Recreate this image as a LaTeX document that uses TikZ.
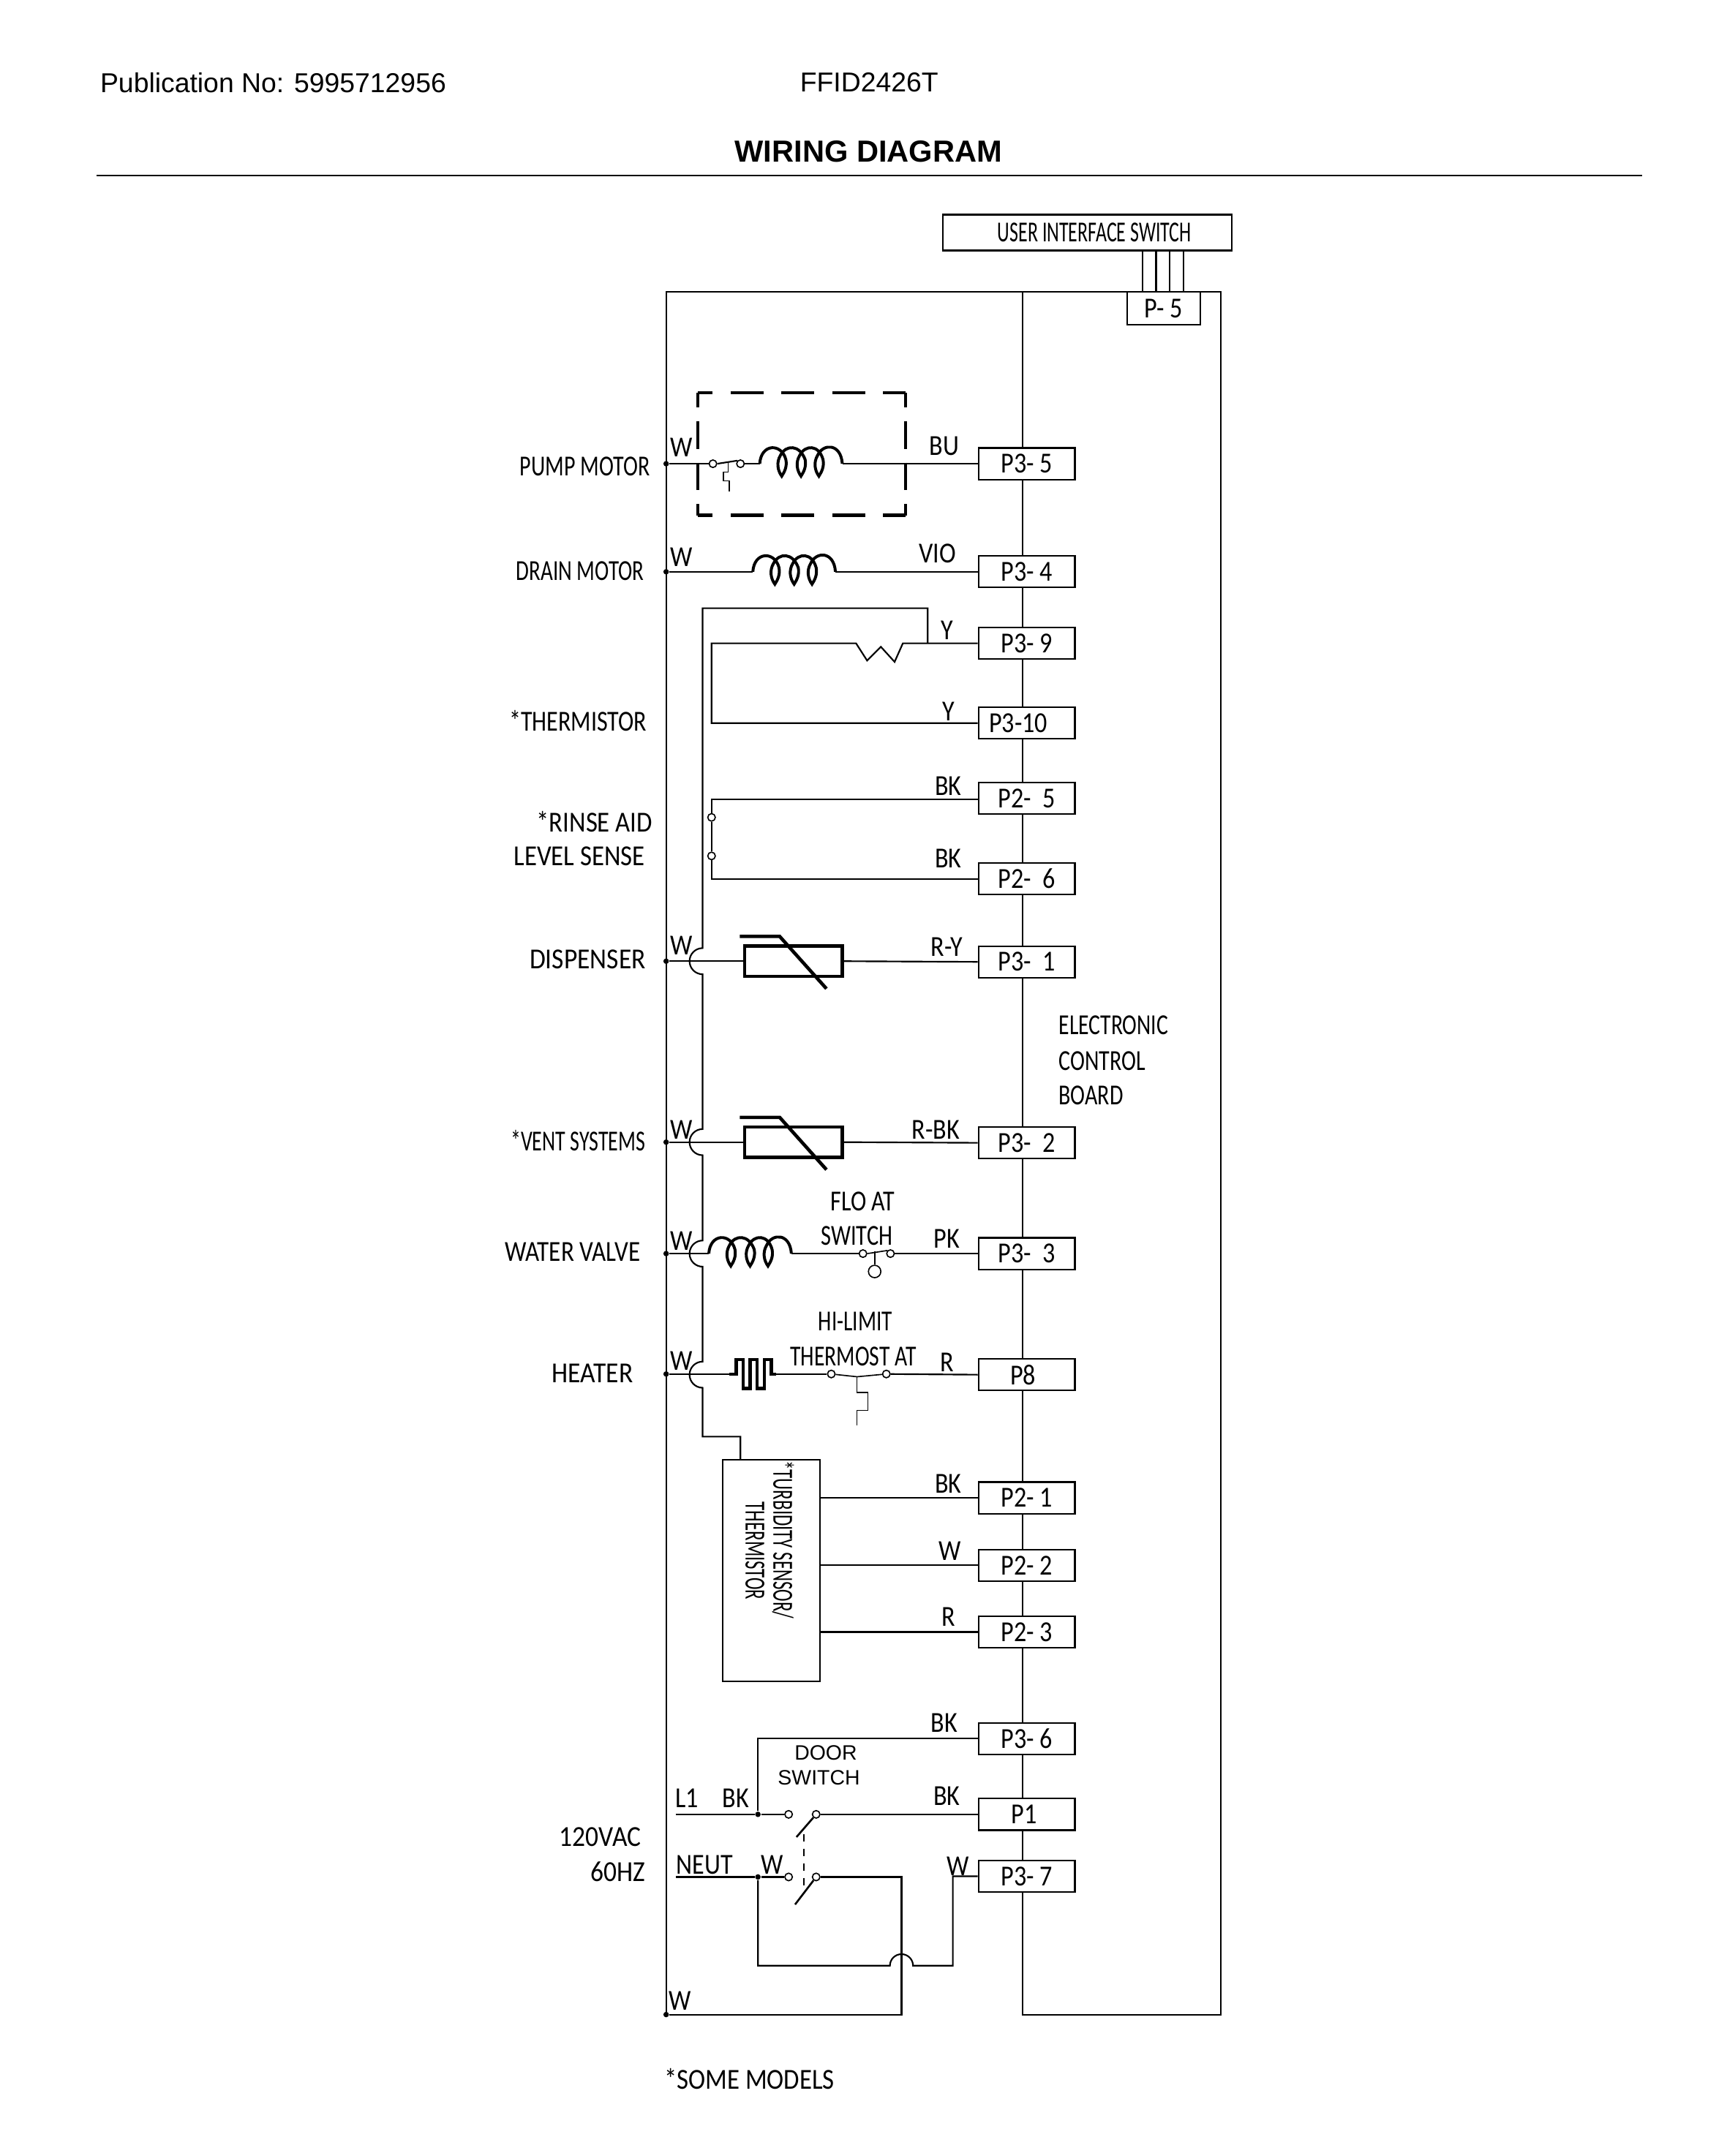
\documentclass[tikz,border=0pt]{standalone}
\usepackage{fontspec}
\usepackage{graphicx}
\setmainfont{Liberation Sans}
\newfontfamily\cond[FakeStretch=0.86]{Carlito}
\newcommand\sx[2]{\scalebox{#1}[1]{#2}}
\usepackage{tikz}
\usetikzlibrary{positioning}
\tikzset{
  wire/.style={line width=0.65pt},
  lbl/.style={font=\cond\fontsize{12}{14}\selectfont,inner sep=0pt},
  conn/.style={lbl,draw,line width=0.65pt,fill=white,minimum width=1.4cm,minimum height=0.46cm},
  term/.style={circle,draw,line width=0.5pt,fill=white,minimum size=0.11cm,inner sep=0pt},
  dot/.style={circle,fill=black,minimum size=0.08cm,inner sep=0pt},
  pics/coil/.style={code={
    \coordinate (-in) at (0,0);
    \coordinate (-out) at (60,0);
    \draw[line width=1.2pt] (-in) .. controls (1,-15) and (16,-15) .. (19,-3)
      .. controls (20,2) and (18,6) .. (16,9) .. controls (13,5) and (12,-1) .. (15,-6)
      .. controls (19,-14) and (29,-14) .. (33,-3)
      .. controls (34,2) and (32,6) .. (30,9) .. controls (27,5) and (26,-1) .. (29,-6)
      .. controls (33,-14) and (43,-14) .. (46,-3)
      .. controls (47,2) and (45,6) .. (43,9) .. controls (40,5) and (39,-1) .. (42,-6)
      .. controls (46,-15) and (59,-15) .. (-out);
  }},
  pics/ptc/.style={code={
    \node (-body) [draw,line width=1.4pt,minimum width=1.42cm,minimum height=0.44cm,inner sep=0pt] at (0,0) {};
    \draw[line width=1.4pt] (-39,-18) -- (-10,-18) -- (24,20);
  }},
}
\begin{document}
\begin{tikzpicture}[x=0.02cm,y=-0.02cm]
\useasboundingbox (0,0) rectangle (1254.3,1566.8);
% header
\node (pub) [font=\fontsize{11.3}{13}\selectfont,inner sep=0pt] at (198.5,60) {Publication No: 5995712956};
\node (model) [font=\fontsize{11.3}{13}\selectfont,inner sep=0pt] at (631.5,60) {FFID2426T};
\node (title) [font=\bfseries\fontsize{12.6}{14}\selectfont,inner sep=0pt] at (631,110) {WIRING DIAGRAM};
\draw[wire] (70,127.5) -- (1193,127.5);

% rail and control board
\coordinate (railTop) at (484,212);
\coordinate (railBot) at (484,1464);
\draw[wire] (railBot) -- (railTop) -- (743,212);
\draw[wire] (743,212) rectangle (887,1464);
\node (ui) [lbl,draw,line width=0.7pt,minimum width=4.2cm,minimum height=0.52cm] at (790,169) {\kern 6pt\sx{0.76}{USER INTERFACE SWITCH}};
\node (p5) [lbl,draw,line width=0.65pt,fill=white,minimum width=1.06cm,minimum height=0.48cm] at (845.5,224) {P- 5};
\draw[wire] (830,182) -- (830,212);
\draw[wire] (840,182) -- (840,212);
\draw[wire] (850,182) -- (850,212);
\draw[wire] (860,182) -- (860,212);
\node (board1) [lbl,anchor=west] at (769,745) {\sx{0.87}{ELECTRONIC}};
\node (board2) [lbl,anchor=west] at (769,771) {\sx{0.88}{CONTROL}};
\node (board3) [lbl,anchor=west] at (769,796) {\sx{0.88}{BOARD}};

% connectors
\node (p35) [conn] at (746,337) {P3- 5};
\node (p34) [conn] at (746,415.5) {P3- 4};
\node (p39) [conn] at (746,467.5) {P3- 9};
\node (p310) [conn] at (746,525.5) {P3-10\kern 7pt};
\node (p25) [conn] at (746,580) {P2- \ 5};
\node (p26) [conn] at (746,638.5) {P2- \ 6};
\node (p31) [conn] at (746,699) {P3- \ 1};
\node (p32) [conn] at (746,830.5) {P3- \ 2};
\node (p33) [conn] at (746,911) {P3- \ 3};
\node (p8) [conn] at (746,999) {P8\kern 3pt};
\node (p21) [conn] at (746,1088.5) {P2- 1};
\node (p22) [conn] at (746,1137.5) {P2- 2};
\node (p23) [conn] at (746,1186) {P2- 3};
\node (p36) [conn] at (746,1263.5) {P3- 6};
\node (p1) [conn] at (746,1318.5) {P1\kern 2pt};
\node (p37) [conn] at (746,1363.5) {P3- 7};

% pump motor
\node (pumpL) [lbl] at (425,339) {\sx{0.88}{PUMP MOTOR}};
\node (pumpDot) [dot] at (484,337) {};
\node (pumpA) [term] at (518,337) {};
\node (pumpB) [term] at (538,337) {};
\pic (pumpC) at (552,337) {coil};
\draw[wire] (pumpDot) -- (pumpA);
\draw[wire] (pumpB) -- (pumpC-in);
\draw[wire] (pumpC-out) -- (p35.west);
\draw[wire] (pumpA.east) -- (pumpB.north west);
\draw[line width=0.5pt] (529,335.5) -- (529,343) -- (525.5,343) -- (525.5,349.5) -- (530,349.5) -- (530,357);
\draw[line width=1.3pt,dash pattern=on 13.6pt off 7.4pt,dash phase=7.4pt] (507,285.5) -- (658,285.5);
\draw[line width=1.3pt,dash pattern=on 13.6pt off 7.4pt,dash phase=7.4pt] (507,374.5) -- (658,374.5);
\draw[line width=1.3pt,dash pattern=on 11.4pt off 5.7pt,dash phase=5.3pt] (507,285.5) -- (507,374.5);
\draw[line width=1.3pt,dash pattern=on 11.4pt off 5.7pt,dash phase=5.3pt] (658,285.5) -- (658,374.5);
\node (pumpW) [lbl] at (495,325) {W};
\node (pumpBU) [lbl] at (686,324) {BU};

% drain motor
\node (drainL) [lbl] at (421.5,415) {\sx{0.85}{DRAIN MOTOR}};
\node (drainDot) [dot] at (484,415.5) {};
\pic (drainC) at (547,415.5) {coil};
\draw[wire] (drainDot) -- (drainC-in);
\draw[wire] (drainC-out) -- (p34.west);
\node (drainW) [lbl] at (495,405) {W};
\node (drainV) [lbl] at (681,402) {VIO};

% thermistor
\node (thermL) [lbl] at (420,524) {\sx{0.94}{*THERMISTOR}};
\coordinate (thermA) at (622,467.5);
\coordinate (thermB) at (656,467.5);
\coordinate (thermT) at (674,467.5);
\draw[wire] (p39.west) -- (thermB) -- (650,481) -- (640,470) -- (630,480) -- (thermA) -- (517,467.5) -- (517,525.5) -- (p310.west);
\node (thermY1) [lbl] at (688,458) {Y};
\node (thermY2) [lbl] at (689,517) {Y};

% long wire with jumps
\draw[wire] (thermT) -- (674,442) -- (510.5,442) -- (510.5,689)
  arc[start angle=-90,end angle=-270,radius=9.5] -- (510.5,820.5)
  arc[start angle=-90,end angle=-270,radius=9.5] -- (510.5,901.5)
  arc[start angle=-90,end angle=-270,radius=9.5] -- (510.5,989.5)
  arc[start angle=-90,end angle=-270,radius=9.5] -- (510.5,1044) -- (538,1044) -- (538,1061);

% rinse aid
\node (rinseL1) [lbl] at (432,597) {\sx{1.02}{*RINSE AID}};
\node (rinseL2) [lbl] at (421,622) {\sx{1.02}{LEVEL SENSE}};
\node (rinseA) [term] at (517,594) {};
\node (rinseB) [term] at (517,622) {};
\draw[wire] (p25.west |- 0,581) -- (517,581) -- (rinseA);
\draw[line width=0.5pt] (rinseA) -- (rinseB);
\draw[wire] (rinseB) -- (517,639) -- (p26.west |- 0,639);
\node (rinseK1) [lbl] at (689,571) {BK};
\node (rinseK2) [lbl] at (689,624) {BK};

% dispenser
\node (dispL) [lbl] at (427,697) {\sx{1.04}{DISPENSER}};
\node (dispDot) [dot] at (484,698.5) {};
\pic (dispP) at (576.5,698.5) {ptc};
\draw[wire] (dispDot) -- (dispP-body.west);
\draw[wire] (dispP-body.east) -- (p31.west);
\node (dispW) [lbl] at (495,687) {W};
\node (dispR) [lbl] at (688,688) {R-Y};

% vent
\node (ventL) [lbl] at (420,829) {\sx{0.82}{*VENT SYSTEMS}};
\node (ventDot) [dot] at (484,830) {};
\pic (ventP) at (576.5,830) {ptc};
\draw[wire] (ventDot) -- (ventP-body.west);
\draw[wire] (ventP-body.east) -- (p32.west);
\node (ventW) [lbl] at (495,821) {W};
\node (ventR) [lbl] at (680,821) {R-BK};

% water valve
\node (waterL) [lbl] at (416,910) {\sx{0.97}{WATER VALVE}};
\node (waterDot) [dot] at (484,911) {};
\pic (waterC) at (515,911) {coil};
\node (floatA) [term] at (627,911) {};
\node (floatB) [term] at (647,911) {};
\node (floatC) [circle,draw,line width=0.5pt,minimum size=0.18cm,inner sep=0pt] at (635.5,924) {};
\draw[wire] (waterDot) -- (waterC-in);
\draw[wire] (waterC-out) -- (floatA);
\draw[wire] (floatB) -- (p33.west);
\draw[line width=0.5pt] (floatA.east) -- (floatB.north west);
\draw[line width=0.5pt] (635.5,909.5) -- (floatC);
\node (waterW) [lbl] at (495,902) {W};
\node (float1) [lbl] at (627,873) {\sx{0.94}{FLO AT}};
\node (float2) [lbl] at (622.5,898) {\sx{0.89}{SWITCH}};
\node (waterK) [lbl] at (688,900) {PK};

% heater
\node (heatL) [lbl] at (430.5,998) {\sx{1.04}{HEATER}};
\node (heatDot) [dot] at (484,998.5) {};
\coordinate (heatA) at (530,998.5);
\coordinate (heatB) at (564,998.5);
\node (limitA) [term] at (604,998.5) {};
\node (limitB) [term] at (644,998.5) {};
\draw[wire] (heatDot) -- (heatA);
\draw[line width=1.3pt] (heatA) -- (535,998.5) -- (535,988) -- (540,988) -- (540,1009) -- (545,1009) -- (545,988) -- (550,988) -- (550,1009) -- (555.5,1009) -- (555.5,988) -- (560.5,988) -- (560.5,998.5) -- (heatB);
\draw[wire] (heatB) -- (limitA);
\draw[line width=0.5pt] (limitA) -- (622.7,1000.5) -- (limitB);
\draw[wire] (limitB) -- (p8.west);
\draw[line width=0.5pt] (622.7,1000.5) -- (622.7,1012) -- (630.5,1012) -- (630.5,1025) -- (622.7,1025) -- (622.7,1036);
\node (heatW) [lbl] at (495,989) {W};
\node (limit1) [lbl] at (621.5,960) {\sx{0.86}{HI-LIMIT}};
\node (limit2) [lbl] at (620,986) {\sx{0.87}{THERMOST AT}};
\node (heatR) [lbl] at (688,990) {R};

% turbidity sensor
\node (sensor) [draw,line width=0.65pt,minimum width=1.42cm,minimum height=3.22cm,inner sep=0pt] at (560.5,1141.5) {};
\node (sensor1) [lbl,rotate=-90] at (569,1119) {\sx{0.73}{*TURBIDITY SENSOR/}};
\node (sensor2) [lbl,rotate=-90] at (548.5,1127) {\sx{0.73}{THERMISTOR}};
\draw[wire] (sensor.east |- p21.west) -- (p21.west);
\draw[wire] (sensor.east |- p22.west) -- (p22.west);
\draw[wire] (sensor.east |- p23.west) -- (p23.west);
\node (sensorK) [lbl] at (689,1078) {BK};
\node (sensorW) [lbl] at (690,1127) {W};
\node (sensorR) [lbl] at (689,1175) {R};

% door switch
\node (acL1) [lbl] at (436,1335) {\sx{1.04}{120VAC}};
\node (acL2) [lbl] at (449,1360) {\sx{1.04}{60HZ}};
\coordinate (lineIn) at (491,1318.5);
\coordinate (neutIn) at (491,1364);
\node (lineDot) [dot] at (550.7,1318.5) {};
\node (neutDot) [dot] at (550.7,1364) {};
\node (doorA) [term] at (573,1318.5) {};
\node (doorB) [term] at (593,1318.5) {};
\node (doorC) [term] at (573,1364) {};
\node (doorD) [term] at (593,1364) {};
\draw[wire] (lineIn) -- (lineDot) -- (doorA);
\draw[wire] (doorB) -- (p1.west);
\draw[wire] (lineDot) |- (p36.west);
\draw[wire] (neutIn) -- (neutDot) -- (doorC);
\draw[line width=0.8pt] (doorB) -- (578.7,1335);
\draw[line width=0.8pt] (doorD) -- (577.7,1384);
\draw[line width=0.5pt,dashed] (584,1333) -- (584,1374);
\node (railEnd) [dot] at (484,1464) {};
\draw[wire] (doorD) -- (655,1364) -- (655,1464) -- (railEnd);
\draw[wire] (neutDot) -- (550.7,1428.5) -- (646.6,1428.5)
  arc[start angle=180,end angle=360,radius=8.4] -- (692.3,1428.5) -- (692.3,1363.5) -- (p37.west);
\node (doorL1) [lbl,font=\fontsize{8.6}{10}\selectfont] at (600,1274) {DOOR};
\node (doorL2) [lbl,font=\fontsize{8.6}{10}\selectfont] at (595,1292) {SWITCH};
\node (lineL) [lbl] at (499,1307) {L1};
\node (lineK) [lbl] at (534.5,1307) {BK};
\node (neutL) [lbl] at (512,1355) {NEUT};
\node (neutW) [lbl] at (561,1355) {W};
\node (p37W) [lbl] at (696,1356) {W};
\node (p36K) [lbl] at (686,1252) {BK};
\node (p1K) [lbl] at (688,1305) {BK};
\node (railW) [lbl] at (494,1454) {W};
\node (note) [lbl] at (544.5,1511) {\sx{1.02}{*SOME MODELS}};
\end{tikzpicture}
\end{document}
